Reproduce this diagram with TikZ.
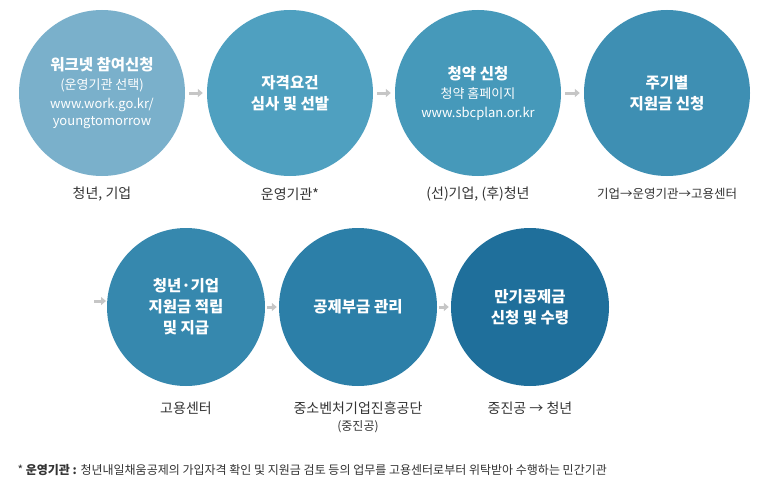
\documentclass[tikz,border=0pt]{standalone}
\usepackage{fontspec}
\setmainfont{Noto Sans CJK KR}
\usetikzlibrary{arrows.meta}
\definecolor{c1}{HTML}{7AB0CB}
\definecolor{c2}{HTML}{4FA0C0}
\definecolor{c3}{HTML}{4699BA}
\definecolor{c4}{HTML}{3E8FB3}
\definecolor{c5}{HTML}{3688AE}
\definecolor{c6}{HTML}{2C7FA8}
\definecolor{c7}{HTML}{1F6F9B}
\definecolor{lab}{HTML}{333333}
\newcommand\subsz{\mdseries\fontsize{13}{17}\selectfont}
\begin{document}
\begin{tikzpicture}[x=1pt,y=-1pt,
  circ/.style={circle,minimum size=#1,inner sep=0pt,text=white,align=center,font=\bfseries\fontsize{15.5}{21}\selectfont},
  lbl/.style={text=lab,font=\fontsize{14}{17}\selectfont},
  arr/.style={draw=gray!45,line width=3pt,-{Triangle[length=5pt,width=8pt]},shorten <=#1,shorten >=#1}]
\useasboundingbox (0,0) rectangle (773,495);
\node[circ=166,fill=c1] (a) at (102,93) {워크넷 참여신청\\[-2pt]{\subsz (운영기관 선택)}\\[-2pt]{\subsz www.work.go.kr/}\\[-4pt]{\subsz youngtomorrow}};
\node[circ=166,fill=c2] (b) at (290,93) {자격요건\\심사 및 선발};
\node[circ=166,fill=c3] (c) at (478,93) {청약 신청\\[-2pt]{\subsz 청약 홈페이지}\\[-2pt]{\subsz www.sbcplan.or.kr}};
\node[circ=166,fill=c4] (d) at (667,93) {주기별\\지원금 신청};
\node[circ=158,fill=c5] (e) at (186,307) {청년·기업\\지원금 적립\\및 지급};
\node[circ=158,fill=c6] (f) at (358,307) {공제부금 관리};
\node[circ=158,fill=c7] (g) at (530,307) {만기공제금\\신청 및 수령};
\draw[arr=4] (a) -- (b);
\draw[arr=4] (b) -- (c);
\draw[arr=4] (c) -- (d);
\coordinate (s) at (94,301);
\draw[arr=0] (s) -- ++(12,0);
\draw[arr=2] (e) -- (f);
\draw[arr=2] (f) -- (g);
\node[lbl] (la) at (102,194) {청년, 기업};
\node[lbl] (lb) at (290,194) {운영기관*};
\node[lbl] (lc) at (478,194) {(선)기업, (후)청년};
\node[lbl,font=\fontsize{12.5}{15}\selectfont] (ld) at (667,194) {기업→운영기관→고용센터};
\node[lbl] (le) at (186,408) {고용센터};
\node[lbl] (lf) at (358,408) {중소벤처기업진흥공단};
\node[lbl,font=\fontsize{12}{14}\selectfont] (lf2) at (358,427) {(중진공)};
\node[lbl] (lg) at (530,408) {중진공 → 청년};
\node[lbl,anchor=west,font=\fontsize{12}{14}\selectfont] (fn) at (14,470) {* \textbf{운영기관 :} 청년내일채움공제의 가입자격 확인 및 지원금 검토 등의 업무를 고용센터로부터 위탁받아 수행하는 민간기관};
\end{tikzpicture}
\end{document}
